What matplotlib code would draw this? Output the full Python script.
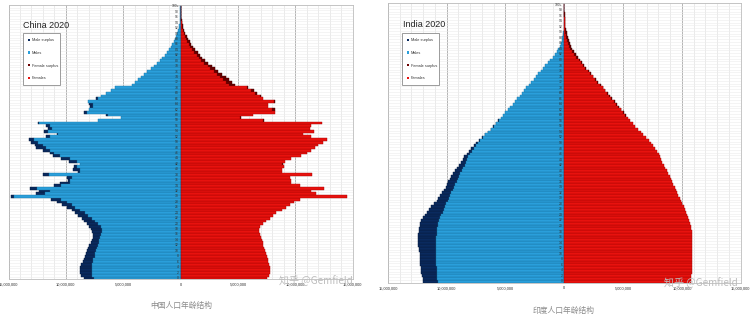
import numpy as np
import matplotlib
matplotlib.use("Agg")
import matplotlib.pyplot as plt
from matplotlib.patches import Patch

# Population by single year of age (0 .. 100+), millions
ages = list(range(101))
age_labels = [str(a) if a < 100 else "100+" for a in range(0, 101, 2)]
x_ticks = [-15e6, -10e6, -5e6, 0, 5e6, 10e6, 15e6]
x_tick_labels = ["15,000,000", "10,000,000", "5,000,000", "0",
                 "5,000,000", "10,000,000", "15,000,000"]

china_male = [8.45, 8.65, 8.75, 8.8, 8.75, 8.65, 8.55, 8.45, 8.35, 8.25,
              8.2, 8.05, 7.95, 7.85, 7.75, 7.65, 7.65, 7.7, 7.8, 7.95,
              8.2, 8.4, 8.6, 8.9, 9.2, 9.5, 9.9, 10.3, 10.8, 11.3,
              14.8, 12.6, 12.3, 13.1, 11.0, 10.5, 9.8, 9.9, 12.0, 8.95,
              9.4, 9.3, 8.8, 9.7, 10.4, 11.1, 11.4, 12.0, 12.6, 12.7,
              13.0, 13.2, 11.7, 10.8, 11.9, 11.6, 11.7, 12.4, 7.2, 5.2,
              6.5, 8.45, 8.0, 7.9, 8.0, 8.1, 7.35, 6.9, 6.5, 6.1,
              5.75, 4.2, 3.95, 3.7, 3.45, 3.15, 2.9, 2.6, 2.35, 2.05,
              1.8, 1.6, 1.4, 1.2, 1.0, 0.85, 0.72, 0.6, 0.48, 0.38,
              0.3, 0.22, 0.16, 0.12, 0.085, 0.06, 0.04, 0.028, 0.018, 0.012,
              0.015]
china_female = [7.55, 7.7, 7.75, 7.75, 7.75, 7.7, 7.65, 7.6, 7.5, 7.45,
                7.35, 7.3, 7.2, 7.15, 7.1, 7.0, 6.9, 6.85, 6.85, 6.95,
                7.2, 7.47, 7.76, 8.05, 8.35, 8.8, 9.2, 9.5, 9.9, 10.4,
                14.5, 11.8, 11.4, 12.5, 10.4, 9.65, 9.65, 9.5, 11.45, 8.8,
                8.8, 9.0, 8.9, 9.07, 9.65, 10.5, 11.0, 11.4, 11.7, 12.0,
                12.4, 12.8, 11.4, 10.7, 11.6, 11.25, 11.4, 12.3, 7.3, 5.3,
                6.3, 8.2, 8.2, 7.6, 7.6, 8.2, 7.2, 7.0, 6.7, 6.4,
                5.9, 4.75, 4.5, 4.25, 3.95, 3.6, 3.3, 3.0, 2.7, 2.4,
                2.15, 1.9, 1.7, 1.48, 1.28, 1.08, 0.92, 0.78, 0.64, 0.52,
                0.42, 0.33, 0.25, 0.19, 0.14, 0.1, 0.07, 0.05, 0.035, 0.022,
                0.03]
india_male = [12.0, 12.05, 12.1, 12.15, 12.2, 12.2, 12.25, 12.25, 12.3, 12.3,
              12.3, 12.35, 12.35, 12.4, 12.4, 12.4, 12.4, 12.4, 12.35, 12.35,
              12.3, 12.25, 12.15, 12.0, 11.85, 11.7, 11.5, 11.3, 11.1, 10.85,
              10.7, 10.55, 10.4, 10.25, 10.1, 10.0, 9.9, 9.75, 9.6, 9.45,
              9.3, 9.12, 8.95, 8.8, 8.65, 8.5, 8.3, 8.1, 7.9, 7.7,
              7.5, 7.25, 7.0, 6.75, 6.5, 6.27, 6.05, 5.85, 5.62, 5.4,
              5.2, 5.0, 4.8, 4.6, 4.4, 4.2, 4.0, 3.8, 3.6, 3.45,
              3.25, 3.0, 2.8, 2.6, 2.4, 2.2, 2.0, 1.8, 1.6, 1.4,
              1.22, 1.0, 0.8, 0.65, 0.5, 0.38, 0.3, 0.22, 0.16, 0.11,
              0.08, 0.06, 0.045, 0.035, 0.025, 0.018, 0.012, 0.008, 0.005, 0.003,
              0.005]
india_female = [10.75, 10.8, 10.8, 10.85, 10.85, 10.85, 10.9, 10.9, 10.9, 10.9,
                10.9, 10.9, 10.9, 10.9, 10.9, 10.9, 10.88, 10.85, 10.83, 10.8,
                10.75, 10.7, 10.62, 10.55, 10.45, 10.35, 10.25, 10.15, 10.05, 9.9,
                9.8, 9.7, 9.6, 9.5, 9.38, 9.27, 9.15, 9.05, 8.95, 8.85,
                8.72, 8.6, 8.47, 8.35, 8.25, 8.15, 8.02, 7.88, 7.72, 7.55,
                7.37, 7.17, 6.95, 6.72, 6.48, 6.25, 6.02, 5.8, 5.58, 5.4,
                5.22, 5.05, 4.86, 4.67, 4.48, 4.28, 4.08, 3.88, 3.68, 3.5,
                3.3, 3.08, 2.88, 2.68, 2.48, 2.28, 2.08, 1.88, 1.68, 1.5,
                1.33, 1.16, 1.0, 0.84, 0.68, 0.56, 0.46, 0.38, 0.3, 0.24,
                0.19, 0.14, 0.1, 0.075, 0.055, 0.04, 0.028, 0.019, 0.013, 0.009,
                0.014]

MALE = "#2A9FDB"
MALE_EDGE = "#17709F"
MALE_SURPLUS = "#0A2A5E"
FEMALE = "#E8120E"
FEMALE_EDGE = "#A30000"
FEMALE_SURPLUS = "#6A0000"
LATIN = "Liberation Sans"
CJK = ["Noto Sans CJK SC", "DejaVu Sans"]

W, H = 756, 324
fig = plt.figure(figsize=(W / 100, H / 100), dpi=100)
fig.patch.set_facecolor("white")


def px_axes(x0, y0, x1, y1):
    return fig.add_axes([x0 / W, 1 - y1 / H, (x1 - x0) / W, (y1 - y0) / H])


def pyramid(ax, male, female, title, title_xy, legend_box):
    y = np.array(ages)
    m = np.array(male) * 1e6
    f = np.array(female) * 1e6
    base = np.minimum(m, f)
    ms = m - base
    fs = f - base
    mk = ms > 0
    fk = fs > 0

    ax.set_xlim(-15e6, 15e6)
    ax.set_ylim(-0.5, 100.5)
    ax.set_axisbelow(True)

    # background grid: 1M minor / 5M major vertical lines, one line per age row
    for v in np.arange(-15e6, 15.01e6, 1e6):
        major = abs(v) % 5e6 < 1
        ax.axvline(v, color="#b4b4b4" if major else "#e2e2e2",
                   lw=0.7 if major else 0.5, zorder=0)
    for r in np.arange(-0.5, 101, 1):
        ax.axhline(r, color="#ececec", lw=0.4, zorder=0)

    ax.barh(y[mk], -ms[mk], left=-base[mk], height=1.0, color=MALE_SURPLUS,
            edgecolor="#061a3c", lw=0.3, zorder=2)
    ax.barh(y, -base, height=1.0, color=MALE, edgecolor=MALE_EDGE, lw=0.3, zorder=2)
    ax.barh(y[fk], fs[fk], left=base[fk], height=1.0, color=FEMALE_SURPLUS,
            edgecolor="#400000", lw=0.3, zorder=2)
    ax.barh(y, base, height=1.0, color=FEMALE, edgecolor=FEMALE_EDGE, lw=0.3, zorder=2)

    for i, lab in enumerate(age_labels):
        ax.text(-0.15e6, i * 2, lab, ha="right", va="center", fontsize=2.4,
                family=LATIN, color="#333333", zorder=3)

    ax.set_xticks(x_ticks)
    ax.set_xticklabels(x_tick_labels, fontsize=2.9, family=LATIN, color="#333333")
    ax.tick_params(axis="x", length=0, pad=2.5)
    ax.set_yticks([])
    for s in ax.spines.values():
        s.set_color("#bdbdbd")
        s.set_linewidth(0.6)

    fig.text(title_xy[0] / W, 1 - title_xy[1] / H, title, fontsize=6.5, family=LATIN,
             color="#222222", va="baseline", ha="left")

    handles = [Patch(facecolor=MALE_SURPLUS, edgecolor="none", label="Male surplus"),
               Patch(facecolor=MALE, edgecolor="none", label="Males"),
               Patch(facecolor=FEMALE_SURPLUS, edgecolor="none", label="Female surplus"),
               Patch(facecolor=FEMALE, edgecolor="none", label="Females")]
    bx0, by0, bx1 = legend_box
    leg = ax.legend(handles=handles, loc="upper left",
                    bbox_to_anchor=(bx0 / W, 1 - by0 / H - 0.3, (bx1 - bx0) / W, 0.3),
                    bbox_transform=fig.transFigure, mode="expand", borderaxespad=0,
                    prop={"family": LATIN, "size": 2.8}, labelspacing=2.25,
                    handlelength=0.55, handleheight=0.55, handletextpad=0.35,
                    borderpad=1.3, fancybox=False, framealpha=1)
    leg.get_frame().set_edgecolor("#8c8c8c")
    leg.get_frame().set_linewidth(0.6)
    for t in leg.get_texts():
        t.set_color("#333333")


ax_cn = px_axes(8.5, 5.0, 352.7, 279.3)
pyramid(ax_cn, china_male, china_female, "China 2020", (23, 27.5), (23, 33, 60))

ax_in = px_axes(387.9, 3.3, 740.7, 282.7)
pyramid(ax_in, india_male, india_female, "India 2020", (403, 27), (402, 33, 439))

# captions under each chart
fig.text(181 / W, 1 - 306 / H, "中国人口年龄结构", family=CJK, fontsize=5.6,
         color="#8a8a8a", ha="center", va="center")
fig.text(564 / W, 1 - 311 / H, "印度人口年龄结构", family=CJK, fontsize=5.6,
         color="#8a8a8a", ha="center", va="center")

# site watermark
fig.text(316 / W, 1 - 281 / H, "知乎 @Gemfield", family=CJK, fontsize=7.2,
         color="#bdbdbd", ha="center", va="center", zorder=10)
fig.text(701 / W, 1 - 283 / H, "知乎 @Gemfield", family=CJK, fontsize=7.2,
         color="#bdbdbd", ha="center", va="center", zorder=10)

fig.savefig("out.png", dpi=100, facecolor="white")
